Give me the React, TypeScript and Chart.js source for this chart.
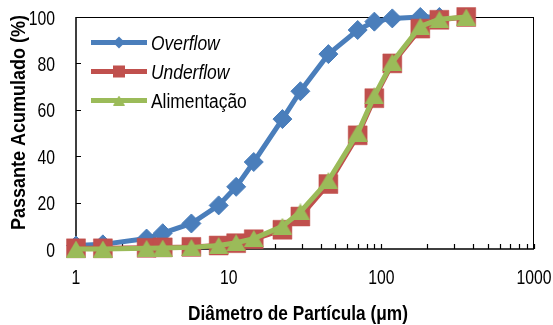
import React, { useEffect, useRef } from 'react';
import { Chart, registerables } from 'chart.js';

Chart.register(...registerables);

// ---- data ----
const particleSizes = [1, 1.5, 2.9, 3.7, 5.7, 8.6, 11.2, 14.6, 22.5, 29.5, 45, 70, 90, 118, 180, 240, 360];
const overflowPassing = [1.5, 2, 4.5, 6.8, 11, 18.8, 26.8, 37.5, 56, 68, 84, 94.4, 98, 99.4, 100, 100, null];
const underflowPassing = [0.3, 0.3, 0.5, 0.7, 0.9, 1.5, 2.5, 4.2, 8.3, 14, 28, 49, 65, 80, 95, 98.8, 100];
const feedPassing = [0, 0, 0.3, 0.4, 0.7, 1.5, 2.7, 4.5, 9.8, 16, 29.5, 50, 66, 80.5, 96, 99, 100];
const seriesNames = ['Overflow', 'Underflow', 'Alimentação'];
const seriesItalic = [true, true, false];
const xTickValues = [1, 10, 100, 1000];
const yTickValues = [0, 20, 40, 60, 80, 100];
const xAxisTitle = 'Diâmetro de Partícula (μm)';
const yAxisTitle = 'Passante Acumulado (%)';

const FONT = "'Liberation Sans', Arial, sans-serif";
const BLUE = '#4A7EBB';
const RED = '#C0504D';
const GREEN = '#9BBB59';

function makeTriangle(w: number, h: number, color: string) {
  const c = document.createElement('canvas');
  c.width = w;
  c.height = h;
  const g = c.getContext('2d')!;
  g.fillStyle = color;
  g.beginPath();
  g.moveTo(w / 2, 0);
  g.lineTo(w, h);
  g.lineTo(0, h);
  g.closePath();
  g.fill();
  return c;
}

function toPoints(vals: (number | null)[]) {
  const out: { x: number; y: number }[] = [];
  vals.forEach((v, i) => {
    if (v !== null) out.push({ x: particleSizes[i], y: v });
  });
  return out;
}

// draw horizontally condensed text (the reference uses a narrow face)
function drawText(
  ctx: CanvasRenderingContext2D,
  text: string,
  x: number,
  y: number,
  font: string,
  sx: number,
  align: CanvasTextAlign,
  baseline: CanvasTextBaseline,
  rotate = 0
) {
  ctx.save();
  ctx.translate(x, y);
  if (rotate) ctx.rotate(rotate);
  ctx.scale(sx, 1);
  ctx.font = font;
  ctx.textAlign = align;
  ctx.textBaseline = baseline;
  ctx.fillStyle = '#000';
  ctx.fillText(text, 0, 0);
  ctx.restore();
}

export default function App() {
  const ref = useRef<HTMLCanvasElement | null>(null);

  useEffect(() => {
    const canvas = ref.current;
    if (!canvas) return;
    const tri = makeTriangle(20, 17, GREEN);
    const triSmall = makeTriangle(12, 10, GREEN);

    const framePlugin = {
      id: 'frameTicks',
      beforeDatasetsDraw(chart: any) {
        const { ctx, chartArea, scales } = chart;
        const { left, right, top, bottom } = chartArea;
        ctx.save();
        ctx.strokeStyle = '#000';
        ctx.lineWidth = 1;
        ctx.beginPath();
        ctx.moveTo(left, top + 0.5);
        ctx.lineTo(right, top + 0.5);
        ctx.moveTo(right - 0.5, top);
        ctx.lineTo(right - 0.5, bottom);
        ctx.stroke();
        ctx.lineWidth = 1.5;
        ctx.beginPath();
        ctx.moveTo(left, top);
        ctx.lineTo(left, bottom);
        ctx.lineTo(right, bottom);
        ctx.stroke();
        ctx.lineWidth = 1.2;
        ctx.beginPath();
        for (let d = 1; d < 1000; d *= 10) {
          for (let m = 1; m <= 10; m++) {
            const px = Math.round(scales.x.getPixelForValue(m * d)) + 0.5;
            ctx.moveTo(px, bottom);
            ctx.lineTo(px, bottom - 5);
          }
        }
        yTickValues.forEach((v) => {
          const py = Math.round(scales.y.getPixelForValue(v)) + 0.5;
          ctx.moveTo(left, py);
          ctx.lineTo(left + 5, py);
        });
        ctx.stroke();
        ctx.restore();

        // tick labels, placed through the scales
        const tickFont = '21px ' + FONT;
        scales.x.ticks.forEach((t: any) => {
          drawText(ctx, String(t.value), scales.x.getPixelForValue(t.value), bottom + 35, tickFont, 0.75, 'center', 'alphabetic');
        });
        scales.y.ticks.forEach((t: any) => {
          drawText(ctx, String(t.value), left - 21, scales.y.getPixelForValue(t.value) + 7.5, tickFont, 0.75, 'right', 'alphabetic');
        });
      },
      afterDatasetsDraw(chart: any) {
        const { ctx, chartArea } = chart;
        const { left, top } = chartArea;
        const colors = [BLUE, RED, GREEN];
        ctx.save();
        colors.forEach((col, i) => {
          const cy = top + 25.5 + i * 29;
          const x0 = left + 15;
          const x1 = left + 71;
          ctx.strokeStyle = col;
          ctx.lineWidth = 5;
          ctx.beginPath();
          ctx.moveTo(x0, cy);
          ctx.lineTo(x1, cy);
          ctx.stroke();
          const mx = (x0 + x1) / 2;
          ctx.fillStyle = col;
          if (i === 0) {
            ctx.beginPath();
            ctx.moveTo(mx, cy - 6);
            ctx.lineTo(mx + 6, cy);
            ctx.lineTo(mx, cy + 6);
            ctx.lineTo(mx - 6, cy);
            ctx.closePath();
            ctx.fill();
          } else if (i === 1) {
            ctx.fillRect(mx - 6, cy - 6, 12, 12);
          } else {
            ctx.drawImage(triSmall, mx - 6, cy - 5);
          }
          drawText(ctx, seriesNames[i], x1 + 4, cy + 7.5, (seriesItalic[i] ? 'italic ' : '') + '20px ' + FONT, 0.87, 'left', 'alphabetic');
        });
        ctx.restore();
      },
      afterDraw(chart: any) {
        const { ctx, chartArea } = chart;
        const { left, right, top, bottom } = chartArea;
        const titleFont = 'bold 20.5px ' + FONT;
        drawText(ctx, xAxisTitle, (left + right) / 2 - 7, 319.5, titleFont, 0.843, 'center', 'alphabetic');
        drawText(ctx, yAxisTitle, 25, (top + bottom) / 2 - 10.5, titleFont, 0.878, 'center', 'alphabetic', -Math.PI / 2);
      },
    };

    const chart = new Chart(canvas, {
      type: 'line',
      data: {
        datasets: [
          {
            label: seriesNames[0],
            data: toPoints(overflowPassing),
            borderColor: BLUE,
            backgroundColor: BLUE,
            borderWidth: 5,
            pointStyle: 'rectRot',
            pointRadius: 9.5,
            pointBorderWidth: 1,
            pointBorderColor: BLUE,
            pointBackgroundColor: BLUE,
            order: 3,
            clip: false,
            tension: 0,
          } as any,
          {
            label: seriesNames[1],
            data: toPoints(underflowPassing),
            borderColor: RED,
            backgroundColor: RED,
            borderWidth: 5,
            pointStyle: 'rect',
            pointRadius: 13.4,
            pointBorderWidth: 0.5,
            pointBorderColor: RED,
            pointBackgroundColor: RED,
            order: 2,
            clip: false,
            tension: 0,
          } as any,
          {
            label: seriesNames[2],
            data: toPoints(feedPassing),
            borderColor: GREEN,
            backgroundColor: GREEN,
            borderWidth: 5,
            pointStyle: tri,
            pointRadius: 10,
            order: 1,
            clip: false,
            tension: 0,
          } as any,
        ],
      },
      options: {
        animation: false,
        responsive: false,
        devicePixelRatio: 1,
        layout: { padding: { top: 17, right: 19, left: 0, bottom: 0 } },
        plugins: { legend: { display: false }, tooltip: { enabled: false } },
        events: [],
        scales: {
          x: {
            type: 'logarithmic',
            min: 1,
            max: 1000,
            position: 'bottom',
            grid: { display: false, drawTicks: false },
            border: { display: false },
            ticks: { display: false, autoSkip: false, maxRotation: 0 },
            afterBuildTicks: (s: any) => {
              s.ticks = xTickValues.map((v) => ({ value: v }));
            },
            afterFit: (s: any) => {
              s.height = 76;
              s.paddingLeft = 0;
              s.paddingRight = 0;
              s.paddingTop = 0;
              s.paddingBottom = 0;
            },
          },
          y: {
            min: 0,
            max: 100,
            grid: { display: false, drawTicks: false },
            border: { display: false },
            ticks: { display: false, stepSize: 20 },
            afterBuildTicks: (s: any) => {
              s.ticks = yTickValues.map((v) => ({ value: v }));
            },
            afterFit: (s: any) => {
              s.width = 76;
              s.paddingLeft = 0;
              s.paddingRight = 0;
              s.paddingTop = 0;
              s.paddingBottom = 0;
            },
          },
        },
      } as any,
      plugins: [framePlugin],
    });
    return () => chart.destroy();
  }, []);

  return (
    <div style={{ position: 'fixed', left: 0, top: 0, width: 553, height: 325, background: '#fff' }}>
      <canvas ref={ref} width={553} height={325} style={{ width: 553, height: 325, display: 'block' }} />
    </div>
  );
}
